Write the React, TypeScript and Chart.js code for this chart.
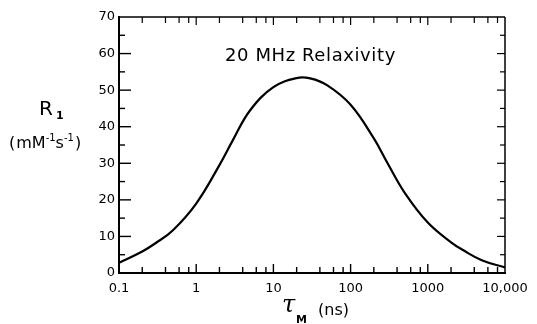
import React, { useEffect, useRef } from "react";
import { Chart, registerables } from "chart.js";

Chart.register(...registerables);

const tauNs = [0.1, 0.2, 0.3, 0.5, 1, 2, 3, 5, 10, 20, 30, 50, 100, 200, 300, 500, 1000, 2000, 3000, 5000, 10000];
const r1Values = [2.8, 5.9, 8.2, 11.7, 19.0, 29.5, 36.4, 44.5, 50.8, 53.3, 53.2, 51.3, 46.0, 36.8, 30.1, 22.0, 13.8, 8.4, 6.0, 3.5, 1.5];

const xTickValues = [0.1, 1, 10, 100, 1000, 10000];
const xTickLabels = ["0.1", "1", "10", "100", "1000", "10,000"];
const xMinorMultipliers = [2, 4, 6, 8];
const yMin = 0;
const yMax = 70;
const yStep = 10;
const yMinorStep = 5;

const titleText = "20 MHz Relaxivity";

const FONT = "'DejaVu Sans', sans-serif";

const framePlugin = {
  id: "frame",
  afterDraw(chart: any) {
    const { ctx, chartArea } = chart;
    const xs = chart.scales.x;
    const ys = chart.scales.y;
    const { left, right, top, bottom } = chartArea;
    ctx.save();
    ctx.strokeStyle = "#000";
    ctx.lineCap = "butt";
    const line = (x1: number, y1: number, x2: number, y2: number, w: number) => {
      ctx.lineWidth = w;
      ctx.beginPath();
      ctx.moveTo(x1, y1);
      ctx.lineTo(x2, y2);
      ctx.stroke();
    };
    line(left, top - 1, left, bottom + 1, 2);
    line(left - 1, bottom, right + 1, bottom, 2);
    line(left, top, right, top, 1.3);
    line(right, top, right, bottom, 1.5);

    for (let d = -1; d <= 4; d++) {
      const base = Math.pow(10, d);
      const mults = [1, ...xMinorMultipliers];
      for (const m of mults) {
        const v = m * base;
        if (v <= 0.1 + 1e-9 || v >= 10000 - 1e-6) continue;
        const px = xs.getPixelForValue(v);
        const len = m === 1 ? 9 : 6;
        line(px, bottom, px, bottom - len, 1.4);
        line(px, top, px, top + (m === 1 ? 8 : 6), 1.2);
      }
    }
    for (let v = yMin + yMinorStep; v < yMax; v += yMinorStep) {
      const py = ys.getPixelForValue(v);
      const major = v % yStep === 0;
      line(left, py, left + (major ? 12 : 6), py, 1.4);
      line(right, py, right - (major ? 8 : 5), py, 1.2);
    }

    ctx.fillStyle = "#000";
    ctx.font = `18px ${FONT}`;
    (ctx as any).letterSpacing = "0.6px";
    ctx.textAlign = "left";
    ctx.textBaseline = "alphabetic";
    ctx.fillText(titleText, 225, 61);
    (ctx as any).letterSpacing = "0px";

    ctx.font = `20px ${FONT}`;
    ctx.fillText("R", 39, 115);
    ctx.font = `bold 11px ${FONT}`;
    ctx.fillText("1", 56, 119);

    let x = 9;
    const base = 148;
    const put = (t: string, size: number, dy: number) => {
      ctx.font = `${size}px ${FONT}`;
      ctx.fillText(t, x, base + dy);
      x += ctx.measureText(t).width;
    };
    put("(", 16, 0);
    x += 1;
    put("mM", 16, 0);
    put("-1", 10, -7);
    put("s", 16, 0);
    put("-1", 10, -7);
    x += 1;
    put(")", 16, 0);

    ctx.font = `italic 24px 'DejaVu Serif', serif`;
    ctx.fillText("τ", 282, 312);
    ctx.font = `bold 11px ${FONT}`;
    ctx.fillText("M", 296, 323);
    ctx.font = `16px ${FONT}`;
    ctx.fillText("(ns)", 318, 315);
    ctx.restore();
  },
};

export default function App() {
  const ref = useRef<HTMLCanvasElement>(null);
  useEffect(() => {
    if (!ref.current) return;
    const chart = new Chart(ref.current, {
      type: "scatter",
      data: {
        datasets: [
          {
            data: tauNs.map((t, i) => ({ x: t, y: r1Values[i] })),
            showLine: true,
            borderColor: "#000",
            borderWidth: 2.2,
            pointRadius: 0,
            tension: 0.4,
          } as any,
        ],
      },
      options: {
        animation: false,
        responsive: false,
        devicePixelRatio: 1,
        layout: { padding: { left: 0, right: 32, top: 17, bottom: 0 } },
        plugins: { legend: { display: false }, tooltip: { enabled: false }, title: { display: false } },
        scales: {
          x: {
            type: "logarithmic",
            min: 0.1,
            max: 10000,
            grid: { display: false, drawTicks: false },
            border: { display: false },
            afterBuildTicks: (scale: any) => {
              scale.ticks = xTickValues.map((value) => ({ value }));
            },
            afterFit: (scale: any) => {
              scale.height = 51;
            },
            ticks: {
              autoSkip: false,
              maxRotation: 0,
              padding: 8,
              color: "#000",
              font: { family: FONT, size: 13 },
              callback: (v: any) => {
                const i = xTickValues.findIndex((t) => Math.abs(t - Number(v)) < 1e-9 * Math.max(1, t));
                return i >= 0 ? xTickLabels[i] : "";
              },
            },
          },
          y: {
            type: "linear",
            min: yMin,
            max: yMax,
            grid: { display: false, drawTicks: false },
            border: { display: false },
            afterFit: (scale: any) => {
              scale.width = 119;
            },
            ticks: {
              stepSize: yStep,
              padding: 4,
              color: "#000",
              font: { family: FONT, size: 13 },
            },
          },
        },
      },
      plugins: [framePlugin],
    } as any);
    return () => chart.destroy();
  }, []);
  return (
    <div style={{ position: "fixed", left: 0, top: 0, width: 537, height: 324, background: "#fff" }}>
      <canvas ref={ref} width={537} height={324} style={{ width: 537, height: 324, display: "block" }} />
    </div>
  );
}
